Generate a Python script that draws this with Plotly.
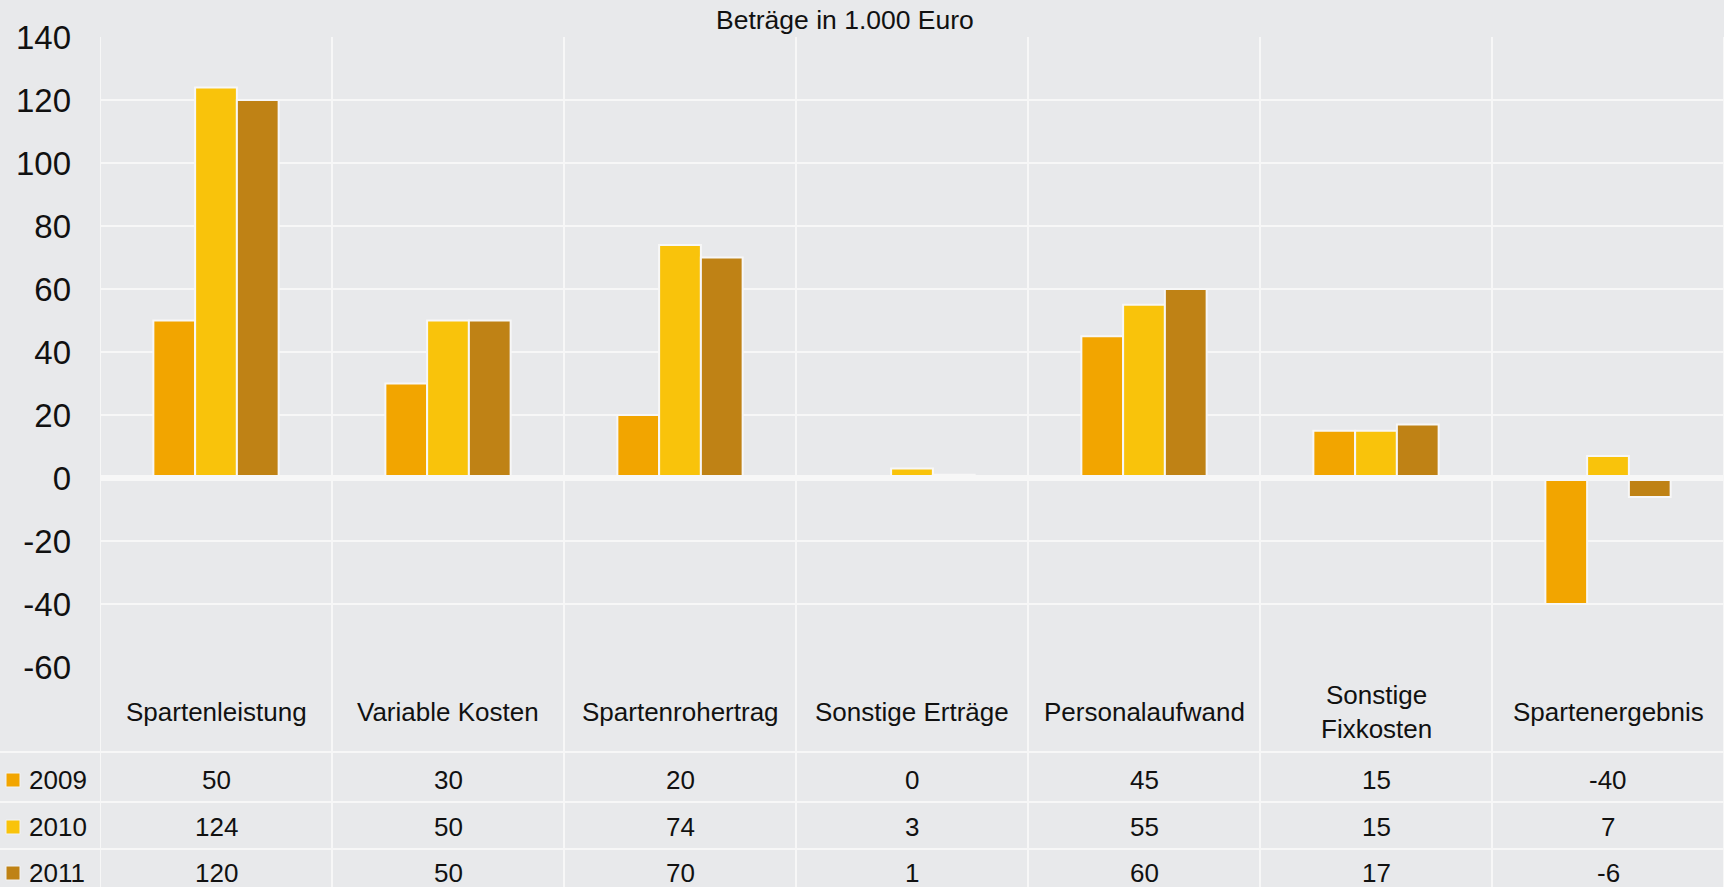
import plotly.graph_objects as go

categories = ["Spartenleistung", "Variable Kosten", "Spartenrohertrag", "Sonstige Erträge",
              "Personalaufwand", "Sonstige Fixkosten", "Spartenergebnis"]
category_labels = ["Spartenleistung", "Variable Kosten", "Spartenrohertrag", "Sonstige Erträge",
                   "Personalaufwand", "Sonstige<br>Fixkosten", "Spartenergebnis"]
series_names = ["2009", "2010", "2011"]
values_2009 = [50, 30, 20, 0, 45, 15, -40]
values_2010 = [124, 50, 74, 3, 55, 15, 7]
values_2011 = [120, 50, 70, 1, 60, 17, -6]
y_ticks = [-60, -40, -20, 0, 20, 40, 60, 80, 100, 120, 140]
title_text = "Beträge in 1.000 Euro"

colors = ["#F2A500", "#F9C30B", "#BF8215"]
series_values = [values_2009, values_2010, values_2011]

W, H = 1724, 887
ML, MT = 100, 37
PW, PH = W - ML, H - MT
FONT = "Liberation Sans, Arial, sans-serif"
BG = "#E8E9EB"
GRID = "#F7F7F7"


def py(p):  # pixel y -> paper y
    return (H - p) / PH


def px(p):  # pixel x -> paper x
    return (p - ML) / PW


fig = go.Figure()
for name, vals, c in zip(series_names, series_values, colors):
    fig.add_trace(go.Bar(x=categories, y=vals, name=name,
                         marker=dict(color=c, line=dict(color="#F7F7F7", width=2))))

fig.update_layout(
    width=W, height=H, autosize=False,
    margin=dict(l=ML, r=0, t=MT, b=0, pad=0),
    paper_bgcolor=BG, plot_bgcolor=BG,
    barmode="group", bargap=0.46, bargroupgap=0.0,
    showlegend=False,
    font=dict(family=FONT, color="#111111", size=26),
    xaxis=dict(showticklabels=False, showgrid=False, zeroline=False, ticks="",
               automargin=False, showline=False,
               range=[-0.5, len(categories) - 0.5], fixedrange=True),
    yaxis=dict(domain=[py(667), 1], range=[-60, 140], tickvals=y_ticks,
               ticktext=[str(v) for v in y_ticks], automargin=False,
               showgrid=True, gridcolor=GRID, gridwidth=2, zeroline=False,
               ticks="", ticklabelstandoff=28, tickfont=dict(size=33, color="#111111")),
)

shapes = []
# vertical column separators (through chart and table)
for i in range(len(categories) + 1):
    shapes.append(dict(type="line", xref="x", yref="paper", x0=i - 0.5, x1=i - 0.5,
                       y0=0, y1=1, line=dict(color=GRID, width=2), layer="below"))
# zero line (thicker, above bars)
shapes.append(dict(type="line", xref="paper", yref="y", x0=0, x1=1, y0=0, y1=0,
                   line=dict(color=GRID, width=6), layer="above"))
# table row lines spanning full width
for p in [752, 802, 849]:
    shapes.append(dict(type="line", xref="paper", yref="paper", x0=px(0), x1=1,
                       y0=py(p), y1=py(p), line=dict(color=GRID, width=2)))
# legend squares
row_centers = [780, 827, 873]
for c, yc in zip(colors, row_centers):
    shapes.append(dict(type="rect", xref="paper", yref="paper",
                       x0=px(6), x1=px(20), y0=py(yc + 7), y1=py(yc - 7),
                       fillcolor=c, line=dict(color="#F3F3F3", width=1)))
fig.update_layout(shapes=shapes)

ann = []
ann.append(dict(text=title_text, xref="paper", yref="paper", x=px(845), y=py(20),
                xanchor="center", yanchor="middle", showarrow=False,
                font=dict(size=26.5)))
for cat, lab in zip(categories, category_labels):
    ann.append(dict(text=lab, xref="x", yref="paper", x=cat, y=py(712),
                    xanchor="center", yanchor="middle", showarrow=False,
                    font=dict(size=26)))
for name, vals, yc in zip(series_names, series_values, row_centers):
    ann.append(dict(text=name, xref="paper", yref="paper", x=px(27), y=py(yc),
                    xanchor="left", yanchor="middle", showarrow=False, font=dict(size=26)))
    for cat, v in zip(categories, vals):
        ann.append(dict(text=str(v), xref="x", yref="paper", x=cat, y=py(yc),
                        xanchor="center", yanchor="middle", showarrow=False,
                        font=dict(size=26)))
fig.update_layout(annotations=ann)

fig.write_html("out.html", config={"displayModeBar": False},
               post_script="document.body.style.margin='0';document.body.style.overflow='hidden';")
